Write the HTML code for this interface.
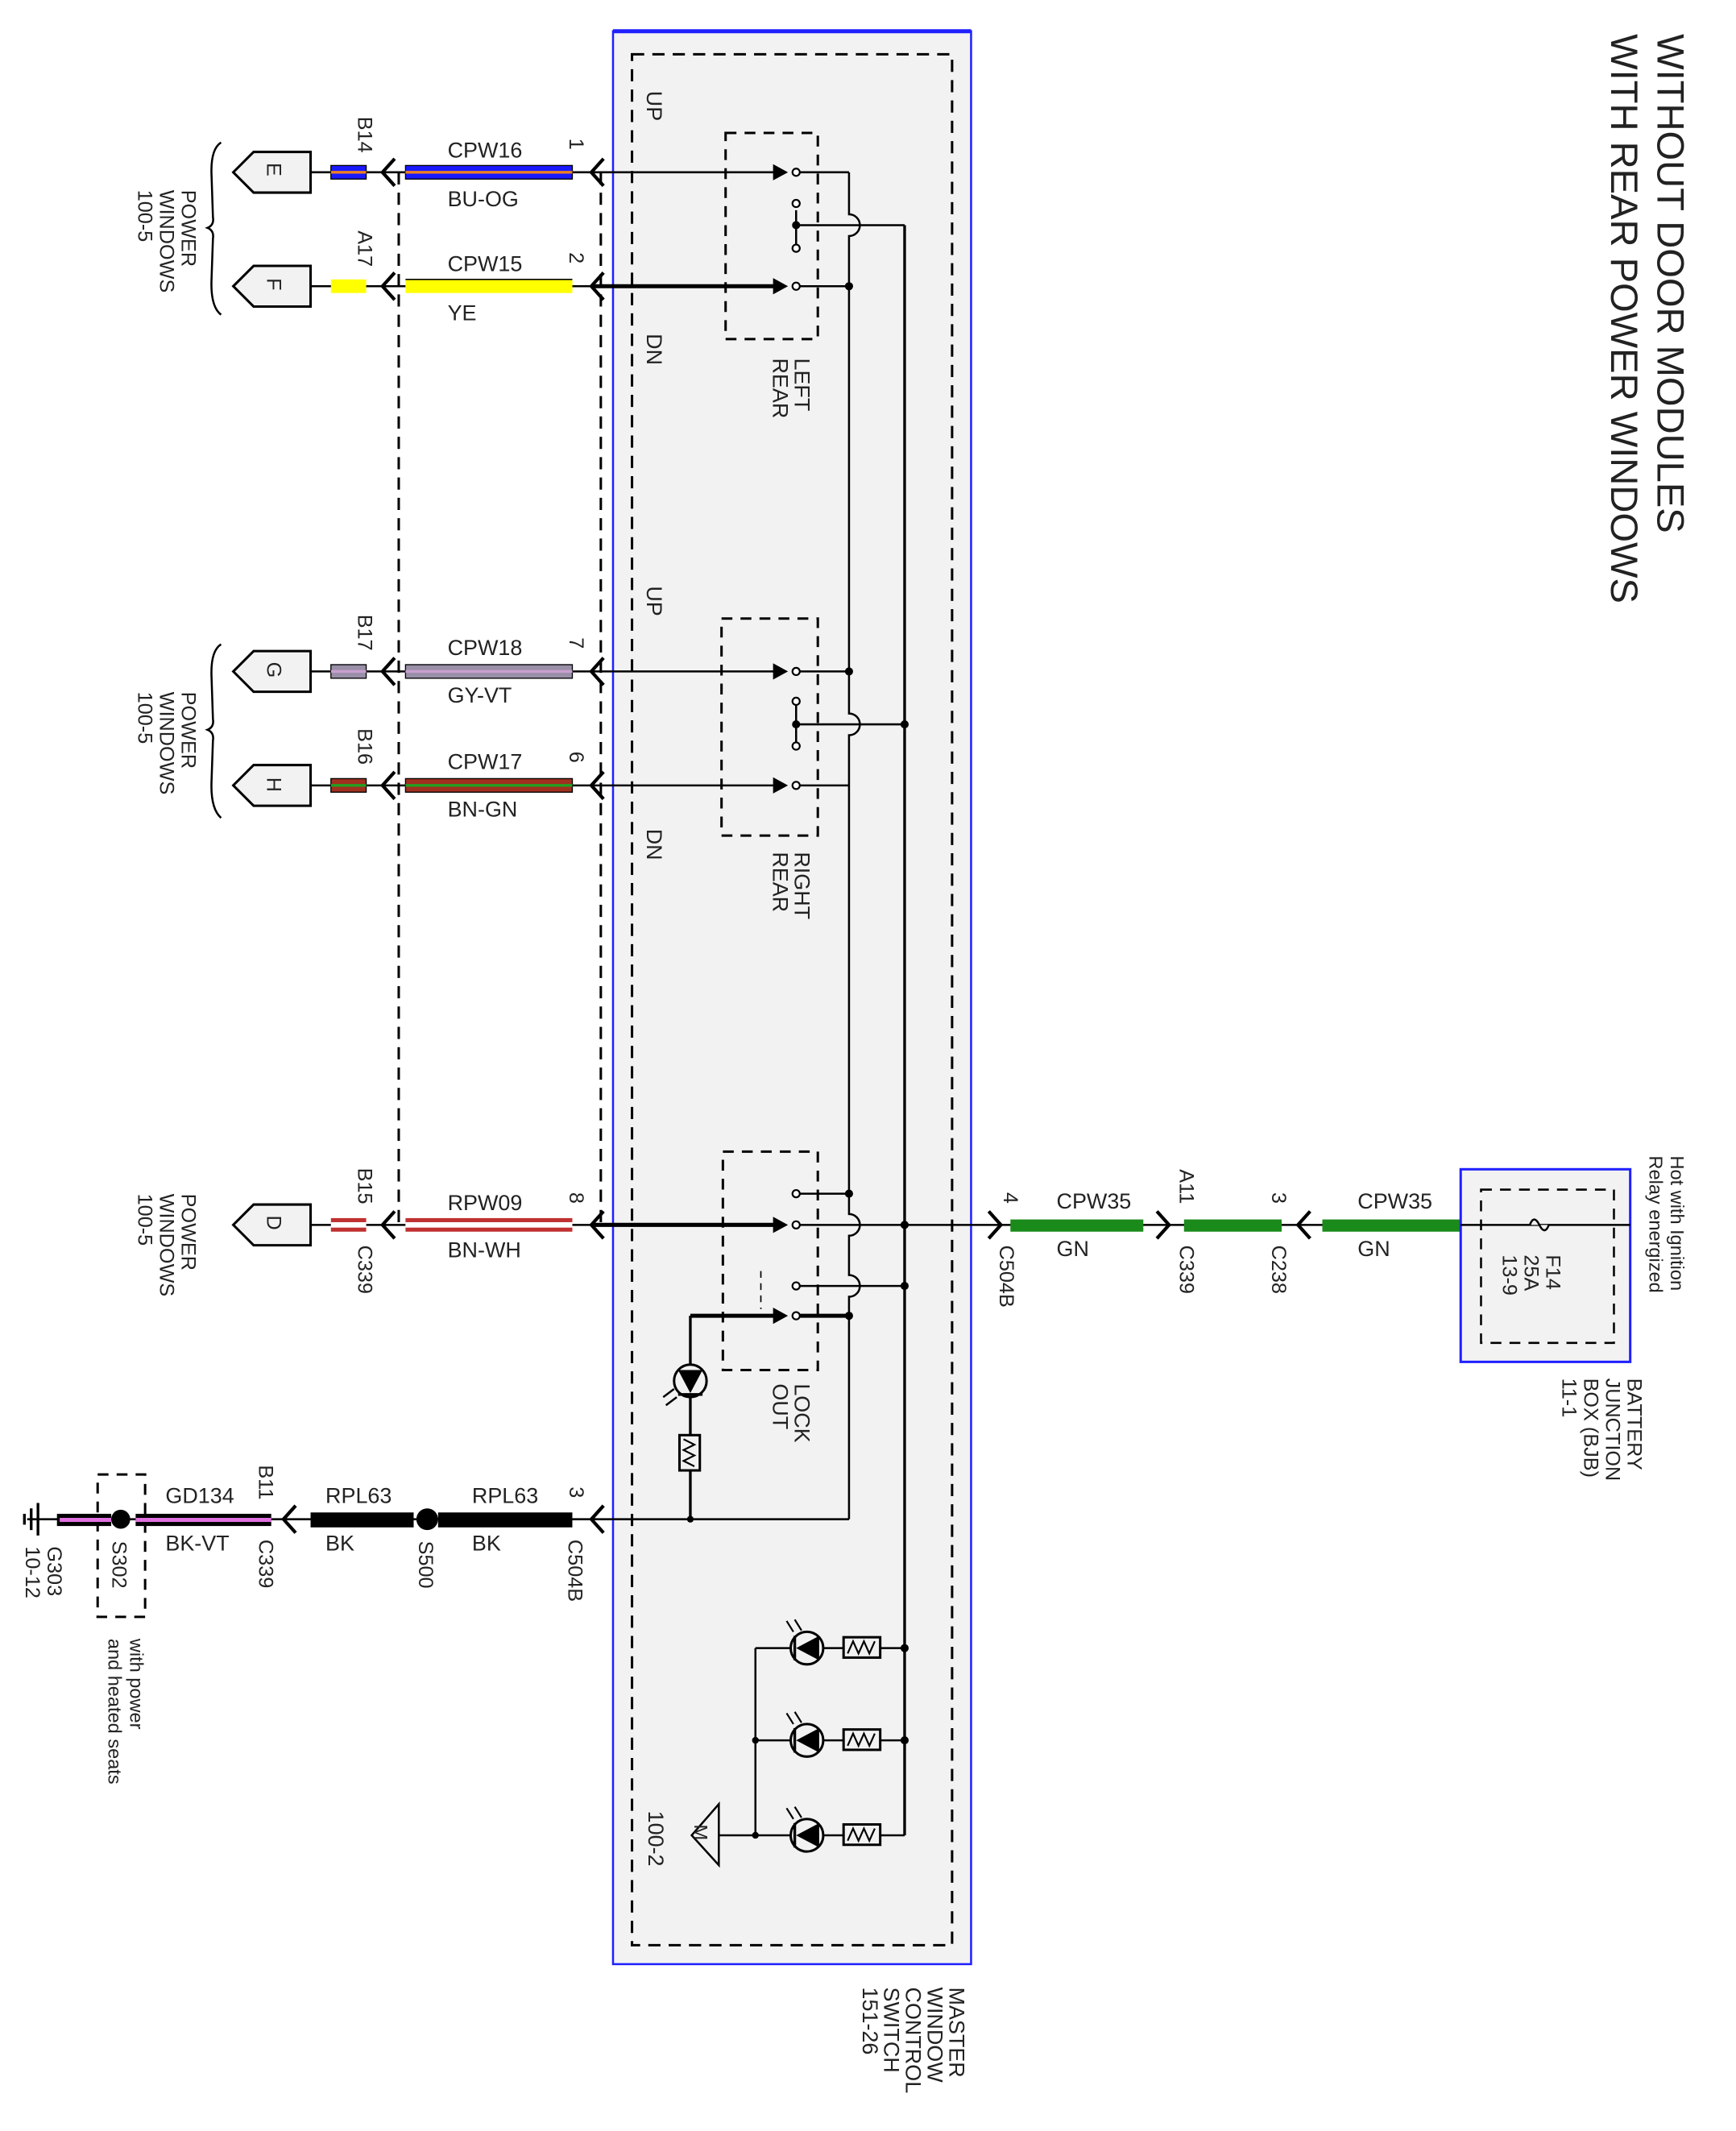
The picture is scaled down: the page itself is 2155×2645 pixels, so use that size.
<!DOCTYPE html>
<html><head><meta charset="utf-8"><style>
html,body{margin:0;padding:0;background:#fff;}
svg{display:block;}
text{font-family:"Liberation Sans",sans-serif;fill:#222;}
</style></head><body>
<svg width="2155" height="2645" viewBox="0 0 1280 1571" preserveAspectRatio="none" xmlns="http://www.w3.org/2000/svg">
<rect width="1280" height="1571" fill="#fff"/>
<text font-size="28" transform="translate(1222,25) rotate(90)">WITHOUT DOOR MODULES</text>
<text font-size="28" transform="translate(1188,25) rotate(90)">WITH REAR POWER WINDOWS</text>

<rect x="452" y="23" width="264" height="1425" fill="#f2f2f2" stroke="#2020ff" stroke-width="1.5"/>
<line x1="452" y1="23" x2="716" y2="23" stroke="#2020ff" stroke-width="3"/>
<rect x="466" y="40" width="236" height="1394" fill="none" stroke="#000" stroke-width="1.8" stroke-dasharray="9,6"/>
<g font-size="16">
<text transform="translate(477,67) rotate(90)">UP</text>
<text transform="translate(477,246) rotate(90)">DN</text>
<text transform="translate(477,432) rotate(90)">UP</text>
<text transform="translate(477,611) rotate(90)">DN</text>
<text transform="translate(586,264) rotate(90)">LEFT</text>
<text transform="translate(570,264) rotate(90)">REAR</text>
<text transform="translate(586,628) rotate(90)">RIGHT</text>
<text transform="translate(570,628) rotate(90)">REAR</text>
<text transform="translate(586,1020) rotate(90)">LOCK</text>
<text transform="translate(570,1020) rotate(90)">OUT</text>
<text transform="translate(700,1465) rotate(90)">MASTER</text>
<text transform="translate(684,1465) rotate(90)">WINDOW</text>
<text transform="translate(668,1465) rotate(90)">CONTROL</text>
<text transform="translate(652,1465) rotate(90)">SWITCH</text>
<text transform="translate(636,1465) rotate(90)">151-26</text>
<text transform="translate(478,1335) rotate(90)">100-2</text>
</g>

<g fill="none" stroke="#000" stroke-width="1.8" stroke-dasharray="8,6">
<rect x="535" y="98" width="68" height="152"/>
<rect x="532" y="456" width="71" height="160"/>
<rect x="533" y="849" width="70" height="161"/>
<rect x="72" y="1087" width="35" height="105"/>
</g>
<line x1="561" y1="937" x2="561" y2="965" stroke="#000" stroke-width="1" stroke-dasharray="5,4"/>

<g stroke="#000" stroke-width="1.8" stroke-dasharray="9,6">
<line x1="294" y1="127" x2="294" y2="905"/>
<line x1="443" y1="127" x2="443" y2="905"/>
</g>

<g stroke="#000" stroke-width="1.5" fill="none">
<line x1="437" y1="127" x2="575" y2="127"/>
<line x1="437" y1="211" x2="575" y2="211" stroke-width="3"/>
<line x1="437" y1="495" x2="575" y2="495"/>
<line x1="437" y1="579" x2="575" y2="579"/>
<line x1="437" y1="903" x2="575" y2="903" stroke-width="3"/>
<line x1="437" y1="1120" x2="626" y2="1120"/>
<line x1="590" y1="127" x2="626" y2="127"/>
<line x1="590" y1="211" x2="626" y2="211"/>
<line x1="590" y1="495" x2="626" y2="495"/>
<line x1="590" y1="579" x2="626" y2="579"/>
<line x1="590" y1="880" x2="626" y2="880"/>
<line x1="590" y1="970" x2="626" y2="970" stroke-width="3"/>
<line x1="587" y1="155" x2="587" y2="180"/>
<line x1="587" y1="515" x2="587" y2="548"/>
<line x1="587" y1="166" x2="667" y2="166"/>
<line x1="587" y1="534" x2="667" y2="534"/>
<line x1="590" y1="903" x2="716" y2="903"/>
<line x1="590" y1="948" x2="667" y2="948"/>
<line x1="509" y1="970" x2="575" y2="970" stroke-width="3"/>
<line x1="509" y1="970" x2="509" y2="1120" stroke-width="2"/>
<path d="M626 127 V158 a8 8 0 0 1 0 16 V495 V526 a8 8 0 0 1 0 16 V895 a8 8 0 0 1 0 16 V940 a8 8 0 0 1 0 16 V1120"/>
<line x1="667" y1="166" x2="667" y2="1353" stroke-width="2"/>
<line x1="557" y1="1215" x2="667" y2="1215"/>
<line x1="557" y1="1283" x2="667" y2="1283"/>
<line x1="528" y1="1353" x2="667" y2="1353"/>
<line x1="557" y1="1215" x2="557" y2="1353"/>
<polygon points="510,1353 530,1330 530,1375" fill="#f2f2f2"/>
</g>
<text font-size="14" transform="translate(512,1345) rotate(90)">M</text>

<g fill="#000">
<polygon points="570,121 581,127 570,133"/><polygon points="570,205 581,211 570,217"/>
<polygon points="570,489 581,495 570,501"/><polygon points="570,573 581,579 570,585"/>
<polygon points="570,897 581,903 570,909"/><polygon points="570,964 581,970 570,976"/>
<circle cx="587" cy="166" r="3"/><circle cx="587" cy="534" r="3"/>
<circle cx="626" cy="211" r="3"/><circle cx="626" cy="495" r="3"/>
<circle cx="667" cy="534" r="3"/><circle cx="667" cy="903" r="3"/><circle cx="667" cy="948" r="3"/>
<circle cx="626" cy="880" r="3"/><circle cx="626" cy="970" r="3"/>
<circle cx="667" cy="1215" r="3"/><circle cx="667" cy="1283" r="3"/>
<circle cx="509" cy="1120" r="2.5"/><circle cx="557" cy="1283" r="2.5"/><circle cx="557" cy="1353" r="2.5"/>
</g>
<g fill="#fff" stroke="#000" stroke-width="1.3">
<circle cx="587" cy="127" r="2.7"/><circle cx="587" cy="211" r="2.7"/><circle cx="587" cy="150" r="2.7"/><circle cx="587" cy="183" r="2.7"/>
<circle cx="587" cy="495" r="2.7"/><circle cx="587" cy="579" r="2.7"/><circle cx="587" cy="517" r="2.7"/><circle cx="587" cy="550" r="2.7"/>
<circle cx="587" cy="880" r="2.7"/><circle cx="587" cy="903" r="2.7"/><circle cx="587" cy="948" r="2.7"/><circle cx="587" cy="970" r="2.7"/>
</g>

<g stroke="#000" stroke-width="1.8" fill="#f2f2f2">
<circle cx="509" cy="1018" r="12"/>
<rect x="501" y="1058" width="15" height="26"/>
</g>
<polygon points="500,1010 518,1010 509,1027" fill="#000"/>
<line x1="500" y1="1028" x2="518" y2="1028" stroke="#000" stroke-width="2"/>
<path d="M504 1061 l8 4 l-8 4 l8 4 l-8 4 l8 4" stroke="#000" fill="none" stroke-width="1.3"/>
<path d="M497 1024 l-8 6 M499 1030 l-8 6" stroke="#000" stroke-width="1.5"/>

<g stroke="#000" stroke-width="1.8" fill="#f2f2f2">
<circle cx="595" cy="1215" r="12"/><rect x="622" y="1207" width="27" height="15"/>
<circle cx="595" cy="1283" r="12"/><rect x="622" y="1275" width="27" height="15"/>
<circle cx="595" cy="1353" r="12"/><rect x="622" y="1345" width="27" height="15"/>
</g>
<g fill="#000">
<polygon points="587,1215 604,1206 604,1224"/><polygon points="587,1283 604,1274 604,1292"/><polygon points="587,1353 604,1344 604,1362"/>
</g>
<g stroke="#000" stroke-width="2"><line x1="586" y1="1206" x2="586" y2="1224"/><line x1="586" y1="1274" x2="586" y2="1292"/><line x1="586" y1="1344" x2="586" y2="1362"/></g>
<g stroke="#000" stroke-width="1.3" fill="none">
<path d="M625 1219 l4 -9 l4 9 l4 -9 l4 9 l4 -9"/><path d="M625 1287 l4 -9 l4 9 l4 -9 l4 9 l4 -9"/><path d="M625 1357 l4 -9 l4 9 l4 -9 l4 9 l4 -9"/>
<path d="M585 1203 l-5 -8 M591 1202 l-5 -8 M585 1271 l-5 -8 M591 1270 l-5 -8 M585 1341 l-5 -8 M591 1340 l-5 -8"/>
</g>

<g stroke="#000" stroke-width="1.5">
<line x1="229" y1="127" x2="299" y2="127"/><line x1="229" y1="211" x2="299" y2="211"/>
<line x1="229" y1="495" x2="299" y2="495"/><line x1="229" y1="579" x2="299" y2="579"/>
<line x1="229" y1="903" x2="299" y2="903"/><line x1="422" y1="127" x2="437" y2="127"/>
<line x1="422" y1="211" x2="437" y2="211"/><line x1="422" y1="495" x2="437" y2="495"/>
<line x1="422" y1="579" x2="437" y2="579"/><line x1="422" y1="903" x2="437" y2="903"/>
</g>
<g>
<rect x="244" y="122" width="26" height="10" fill="#1a1aff" stroke="#000" stroke-width="0.8"/><rect x="299" y="122" width="123" height="10" fill="#1a1aff" stroke="#000" stroke-width="0.8"/>
<rect x="244" y="126" width="26" height="2" fill="#f08020"/><rect x="299" y="126" width="123" height="2" fill="#f08020"/>
<rect x="244" y="206" width="26" height="10" fill="#ffff00"/><rect x="299" y="206" width="123" height="10" fill="#ffff00"/><line x1="299" y1="206" x2="422" y2="206" stroke="#000"/>
<rect x="244" y="490" width="26" height="10" fill="#9a8fa8" stroke="#000" stroke-width="0.8"/><rect x="299" y="490" width="123" height="10" fill="#9a8fa8" stroke="#000" stroke-width="0.8"/>
<rect x="244" y="494" width="26" height="2" fill="#c8a0d0"/><rect x="299" y="494" width="123" height="2" fill="#c8a0d0"/>
<rect x="244" y="574" width="26" height="10" fill="#a03020" stroke="#000" stroke-width="0.8"/><rect x="299" y="574" width="123" height="10" fill="#a03020" stroke="#000" stroke-width="0.8"/>
<rect x="244" y="578" width="26" height="2" fill="#20a020"/><rect x="299" y="578" width="123" height="2" fill="#20a020"/>
<rect x="244" y="898" width="26" height="10" fill="#c03030"/><rect x="299" y="898" width="123" height="10" fill="#c03030"/>
<rect x="244" y="901" width="26" height="4" fill="#fff"/><rect x="299" y="901" width="123" height="4" fill="#fff"/>
</g>
<g stroke="#000" stroke-width="2.5" fill="none">
<path d="M291 117 L282 127 L291 137 M445 117 L436 127 L445 137"/>
<path d="M291 201 L282 211 L291 221 M445 201 L436 211 L445 221"/>
<path d="M291 485 L282 495 L291 505 M445 485 L436 495 L445 505"/>
<path d="M291 569 L282 579 L291 589 M445 569 L436 579 L445 589"/>
<path d="M291 893 L282 903 L291 913 M445 893 L436 903 L445 913"/>
<path d="M445 1110 L436 1120 L445 1130 M218 1110 L209 1120 L218 1130"/>
<path d="M729 893 L738 903 L729 913 M853 893 L862 903 L853 913 M966 893 L957 903 L966 913"/>
</g>
<g stroke="#000" stroke-width="1.8" fill="#f2f2f2">
<polygon points="172,127 187,112 229,112 229,142 187,142"/>
<polygon points="172,211 187,196 229,196 229,226 187,226"/>
<polygon points="172,495 187,480 229,480 229,510 187,510"/>
<polygon points="172,579 187,564 229,564 229,594 187,594"/>
<polygon points="172,903 187,888 229,888 229,918 187,918"/>
</g>
<g font-size="15">
<text transform="translate(197,120) rotate(90)">E</text><text transform="translate(197,205) rotate(90)">F</text>
<text transform="translate(197,488) rotate(90)">G</text><text transform="translate(197,573) rotate(90)">H</text>
<text transform="translate(197,896) rotate(90)">D</text>
</g>
<path d="M163 105 Q155 110 156 130 L157 160 Q158 166 153 168 Q158 170 157 176 L156 205 Q155 226 163 232" stroke="#000" stroke-width="1.5" fill="none"/>
<path d="M163 475 Q155 480 156 500 L157 530 Q158 536 153 538 Q158 540 157 546 L156 575 Q155 596 163 603" stroke="#000" stroke-width="1.5" fill="none"/>
<g font-size="15">
<text transform="translate(134,140) rotate(90)">POWER</text><text transform="translate(118,140) rotate(90)">WINDOWS</text><text transform="translate(102,140) rotate(90)">100-5</text>
<text transform="translate(134,510) rotate(90)">POWER</text><text transform="translate(118,510) rotate(90)">WINDOWS</text><text transform="translate(102,510) rotate(90)">100-5</text>
<text transform="translate(134,880) rotate(90)">POWER</text><text transform="translate(118,880) rotate(90)">WINDOWS</text><text transform="translate(102,880) rotate(90)">100-5</text>
</g>
<g font-size="16">
<text x="330" y="116">CPW16</text><text x="330" y="152">BU-OG</text>
<text x="330" y="200">CPW15</text><text x="330" y="236">YE</text>
<text x="330" y="483">CPW18</text><text x="330" y="518">GY-VT</text>
<text x="330" y="567">CPW17</text><text x="330" y="602">BN-GN</text>
<text x="330" y="892">RPW09</text><text x="330" y="927">BN-WH</text>
<text x="348" y="1108">RPL63</text><text x="348" y="1143">BK</text>
<text x="240" y="1108">RPL63</text><text x="240" y="1143">BK</text>
<text x="122" y="1108">GD134</text><text x="122" y="1143">BK-VT</text>
<text x="779" y="891">CPW35</text><text x="779" y="926">GN</text>
<text x="1001" y="891">CPW35</text><text x="1001" y="926">GN</text>
</g>
<g font-size="15">
<text transform="translate(264,86) rotate(90)">B14</text><text transform="translate(264,170) rotate(90)">A17</text>
<text transform="translate(264,453) rotate(90)">B17</text><text transform="translate(264,537) rotate(90)">B16</text>
<text transform="translate(264,861) rotate(90)">B15</text><text transform="translate(264,918) rotate(90)">C339</text>
<text transform="translate(420,102) rotate(90)">1</text><text transform="translate(420,186) rotate(90)">2</text>
<text transform="translate(420,470) rotate(90)">7</text><text transform="translate(420,554) rotate(90)">6</text>
<text transform="translate(420,879) rotate(90)">8</text><text transform="translate(420,1096) rotate(90)">3</text>
<text transform="translate(419,1135) rotate(90)">C504B</text>
<text transform="translate(309,1136) rotate(90)">S500</text>
<text transform="translate(191,1080) rotate(90)">B11</text><text transform="translate(191,1135) rotate(90)">C339</text>
<text transform="translate(83,1136) rotate(90)">S302</text>
<text transform="translate(35,1140) rotate(90)">G303</text><text transform="translate(19,1140) rotate(90)">10-12</text>
<text transform="translate(740,879) rotate(90)">4</text><text transform="translate(737,918) rotate(90)">C504B</text>
<text transform="translate(870,862) rotate(90)">A11</text><text transform="translate(870,918) rotate(90)">C339</text>
<text transform="translate(938,879) rotate(90)">3</text><text transform="translate(938,918) rotate(90)">C238</text>
<text transform="translate(1200,1016) rotate(90)">BATTERY</text><text transform="translate(1184,1016) rotate(90)">JUNCTION</text>
<text transform="translate(1168,1016) rotate(90)">BOX (BJB)</text><text transform="translate(1152,1016) rotate(90)">11-1</text>
</g>
<g font-size="14">
<text transform="translate(1232,852) rotate(90)">Hot with Ignition</text>
<text transform="translate(1216,852) rotate(90)">Relay energized</text>
<text transform="translate(96,1208) rotate(90)">with power</text>
<text transform="translate(80,1208) rotate(90)">and heated seats</text>
</g>

<line x1="20" y1="1120" x2="440" y2="1120" stroke="#000" stroke-width="1.5"/>
<rect x="323" y="1115" width="99" height="11" fill="#000"/>
<rect x="229" y="1115" width="76" height="11" fill="#000"/>
<circle cx="315" cy="1120" r="8" fill="#000"/>
<rect x="100" y="1116" width="100" height="9" fill="#000"/><rect x="100" y="1119" width="100" height="3" fill="#e070e0"/>
<rect x="42" y="1116" width="40" height="9" fill="#000"/><rect x="44" y="1119" width="38" height="3" fill="#e070e0"/>
<circle cx="89" cy="1120" r="7" fill="#000"/>
<g stroke="#000" stroke-width="2"><line x1="28" y1="1108" x2="28" y2="1132"/><line x1="23" y1="1112" x2="23" y2="1128"/><line x1="18" y1="1116" x2="18" y2="1124"/></g>

<line x1="716" y1="903" x2="1202" y2="903" stroke="#000" stroke-width="1.5"/>
<rect x="745" y="899" width="98" height="9" fill="#1a8a1a"/>
<rect x="873" y="899" width="72" height="9" fill="#1a8a1a"/>
<rect x="975" y="899" width="102" height="9" fill="#1a8a1a"/>
<rect x="1077" y="862" width="125" height="142" fill="#f2f2f2" stroke="#2020ff" stroke-width="1.8"/>
<rect x="1092" y="877" width="98" height="113" fill="none" stroke="#000" stroke-width="1.5" stroke-dasharray="8,6"/>
<line x1="1077" y1="903" x2="1202" y2="903" stroke="#000" stroke-width="1.5"/>
<path d="M1128 903 q3 -8 7 0 q4 8 7 0" fill="#f2f2f2" stroke="#000" stroke-width="1.5"/>
<g font-size="15">
<text transform="translate(1140,925) rotate(90)">F14</text><text transform="translate(1124,925) rotate(90)">25A</text><text transform="translate(1108,925) rotate(90)">13-9</text>
</g>
</svg>
</body></html>
